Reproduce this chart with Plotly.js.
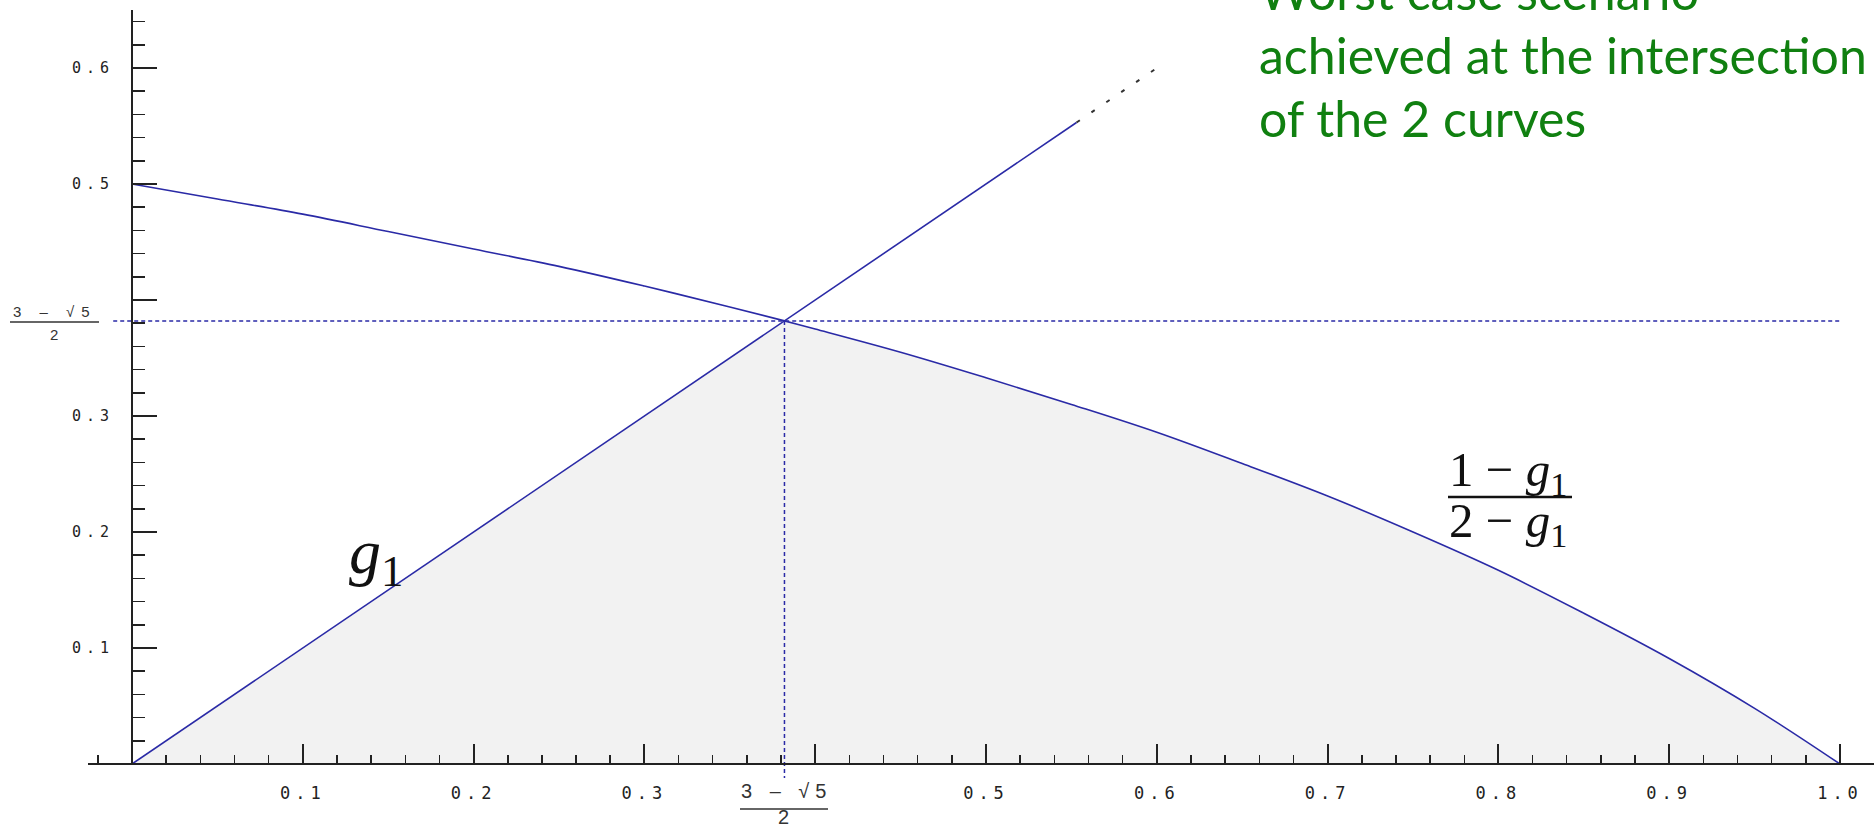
<!DOCTYPE html>
<html>
<head>
<meta charset="utf-8">
<script src="https://cdn.plot.ly/plotly-3.0.1.min.js"></script>
<style>html,body{margin:0;padding:0;background:#fff;}#chart{width:1874px;height:830px;}</style>
</head>
<body>
<div id="chart"></div>
<script>
// ---- data ----
const tickValsX = [0.1, 0.2, 0.3, 0.4, 0.5, 0.6, 0.7, 0.8, 0.9, 1.0];
const tickTextX = ['0.1', '0.2', '0.3', '', '0.5', '0.6', '0.7', '0.8', '0.9', '1.0'];
const tickValsY = [0.1, 0.2, 0.3, 0.4, 0.5, 0.6];
const tickTextY = ['0.1', '0.2', '0.3', '', '0.5', '0.6'];

// curve (1-g1)/(2-g1)
const curveX = [0, 0.05, 0.1, 0.15, 0.2, 0.25, 0.3, 0.35, 0.382, 0.4, 0.45, 0.5, 0.55, 0.6, 0.65, 0.7, 0.75, 0.8, 0.85, 0.9, 0.95, 1.0];
const curveY = [0.5, 0.487, 0.474, 0.459, 0.444, 0.429, 0.412, 0.394, 0.382, 0.375, 0.355, 0.333, 0.310, 0.286, 0.259, 0.231, 0.2, 0.167, 0.130, 0.091, 0.048, 0];

// line g1 (solid part, then dotted continuation)
const g1X = [0, 0.553];
const g1Y = [0, 0.553];
const g1ExtX = [0.553, 0.6];
const g1ExtY = [0.553, 0.6];

// intersection value (3 - sqrt5)/2
const crossing = 0.382;
const guideHX = [-0.011, 1.0];
const guideVY = [crossing, -0.012];

// ---- build ----
const blue = '#2a2aa6';
const fillX = [0, crossing];
const fillY = [0, crossing];
curveX.forEach((x, i) => { if (x > crossing) { fillX.push(x); fillY.push(curveY[i]); } });

const sp = (s, ls) => s ? '<span style="letter-spacing:' + ls + 'px">' + s + '</span>' : '';

const traces = [
  {x: fillX, y: fillY, type: 'scatter', mode: 'lines', fill: 'tozeroy', fillcolor: '#f2f2f2', line: {width: 0}, hoverinfo: 'skip'},
  {x: guideHX, y: [crossing, crossing], type: 'scatter', mode: 'lines', line: {color: blue, width: 1.5, dash: '4px,3px'}},
  {x: [crossing, crossing], y: guideVY, type: 'scatter', mode: 'lines', line: {color: blue, width: 1.5, dash: '4px,3px'}},
  {x: curveX, y: curveY, type: 'scatter', mode: 'lines', line: {color: blue, width: 1.6, shape: 'spline'}},
  {x: g1X, y: g1Y, type: 'scatter', mode: 'lines', line: {color: blue, width: 1.6}},
  {x: g1ExtX, y: g1ExtY, type: 'scatter', mode: 'lines', line: {color: '#333', width: 2, dash: '4px,14px'}}
];

const tickFontX = {family: 'DejaVu Sans Mono, Liberation Mono, monospace', size: 17, color: '#222'};
const tickFontY = {family: 'DejaVu Sans Mono, Liberation Mono, monospace', size: 15, color: '#222'};
const fracFont = 'Liberation Sans, Arial, sans-serif';
const mathFont = 'Liberation Serif, DejaVu Serif, serif';
const green = '#108010';
const greenFont = {family: 'Lato, Open Sans, sans-serif', size: 50, color: green};

const layout = {
  width: 1874, height: 830,
  margin: {l: 0, r: 0, t: 0, b: 0},
  paper_bgcolor: '#fff', plot_bgcolor: 'rgba(0,0,0,0)',
  showlegend: false,
  hovermode: false,
  xaxis: {
    domain: [88 / 1874, 1], range: [-0.02576, 1.0199],
    anchor: 'free', position: 66 / 830,
    showgrid: false, zeroline: false,
    showline: true, linecolor: '#222', linewidth: 2,
    tickmode: 'array', tickvals: tickValsX, ticktext: tickTextX.map(s => sp(s, 5)),
    ticks: 'inside', ticklen: 19, tickwidth: 2, tickcolor: '#222',
    minor: {dtick: 0.02, tick0: 0, ticks: 'inside', ticklen: 8, tickwidth: 1.5, tickcolor: '#222', showgrid: false},
    tickfont: tickFontX, ticklabelstandoff: 14
  },
  yaxis: {
    domain: [(830 - 779) / 830, (830 - 10) / 830], range: [-0.01293, 0.65],
    anchor: 'free', position: 132 / 1874,
    showgrid: false, zeroline: false, showline: false,
    tickmode: 'array', tickvals: tickValsY, ticktext: tickTextY.map(s => sp(s, 5)),
    ticks: 'inside', ticklen: 24, tickwidth: 2, tickcolor: '#222',
    minor: {dtick: 0.02, tick0: 0, ticks: 'inside', ticklen: 12, tickwidth: 1.5, tickcolor: '#222', showgrid: false},
    tickfont: tickFontY, ticklabelstandoff: 18
  },
  shapes: [
    {type: 'line', xref: 'x', yref: 'y', x0: 0, x1: 0, y0: 0, y1: 0.65, line: {color: '#222', width: 2}, layer: 'above'},
    {type: 'line', xref: 'paper', yref: 'paper', x0: 10 / 1874, x1: 99 / 1874, y0: (830 - 322) / 830, y1: (830 - 322) / 830, line: {color: '#333', width: 1.5}},
    {type: 'line', xref: 'paper', yref: 'paper', x0: 740 / 1874, x1: 828 / 1874, y0: (830 - 809) / 830, y1: (830 - 809) / 830, line: {color: '#333', width: 1.5}},
    {type: 'line', xref: 'paper', yref: 'paper', x0: 1448 / 1874, x1: 1572 / 1874, y0: (830 - 497) / 830, y1: (830 - 497) / 830, line: {color: '#111', width: 2.5}}
  ],
  annotations: [
    {xref: 'paper', yref: 'paper', x: 55 / 1874, y: (830 - 311) / 830, text: sp('3 – √5', 7), showarrow: false, xanchor: 'center', yanchor: 'middle', font: {family: fracFont, size: 15, color: '#333'}},
    {xref: 'paper', yref: 'paper', x: 54 / 1874, y: (830 - 334) / 830, text: '2', showarrow: false, xanchor: 'center', yanchor: 'middle', font: {family: fracFont, size: 15, color: '#333'}},
    {xref: 'paper', yref: 'paper', x: 786 / 1874, y: (830 - 791) / 830, text: sp('3 – √5', 6), showarrow: false, xanchor: 'center', yanchor: 'middle', font: {family: fracFont, size: 20, color: '#333'}},
    {xref: 'paper', yref: 'paper', x: 783 / 1874, y: 0, text: '2', showarrow: false, xanchor: 'center', yanchor: 'bottom', font: {family: fracFont, size: 20, color: '#333'}},
    {xref: 'paper', yref: 'paper', x: 376 / 1874, y: (830 - 556) / 830, text: '<i>g</i><sub>1</sub>', showarrow: false, xanchor: 'center', yanchor: 'middle', font: {family: mathFont, size: 64, color: '#111'}},
    {xref: 'paper', yref: 'paper', x: 1508 / 1874, y: (830 - 473) / 830, text: '1 − <i>g</i><sub>1</sub>', showarrow: false, xanchor: 'center', yanchor: 'middle', font: {family: mathFont, size: 49, color: '#111'}},
    {xref: 'paper', yref: 'paper', x: 1508 / 1874, y: (830 - 523) / 830, text: '2 − <i>g</i><sub>1</sub>', showarrow: false, xanchor: 'center', yanchor: 'middle', font: {family: mathFont, size: 49, color: '#111'}},
    {xref: 'paper', yref: 'paper', x: 1257 / 1874, y: (830 + 9) / 830, text: 'Worst case scenario', showarrow: false, xanchor: 'left', yanchor: 'middle', font: greenFont},
    {xref: 'paper', yref: 'paper', x: 1257 / 1874, y: (830 - 55) / 830, text: 'achieved at the intersection', showarrow: false, xanchor: 'left', yanchor: 'middle', font: greenFont},
    {xref: 'paper', yref: 'paper', x: 1257 / 1874, y: (830 - 118) / 830, text: 'of the 2 curves', showarrow: false, xanchor: 'left', yanchor: 'middle', font: greenFont}
  ]
};

Plotly.newPlot('chart', traces, layout, {displayModeBar: false, staticPlot: true});
</script>
</body>
</html>
